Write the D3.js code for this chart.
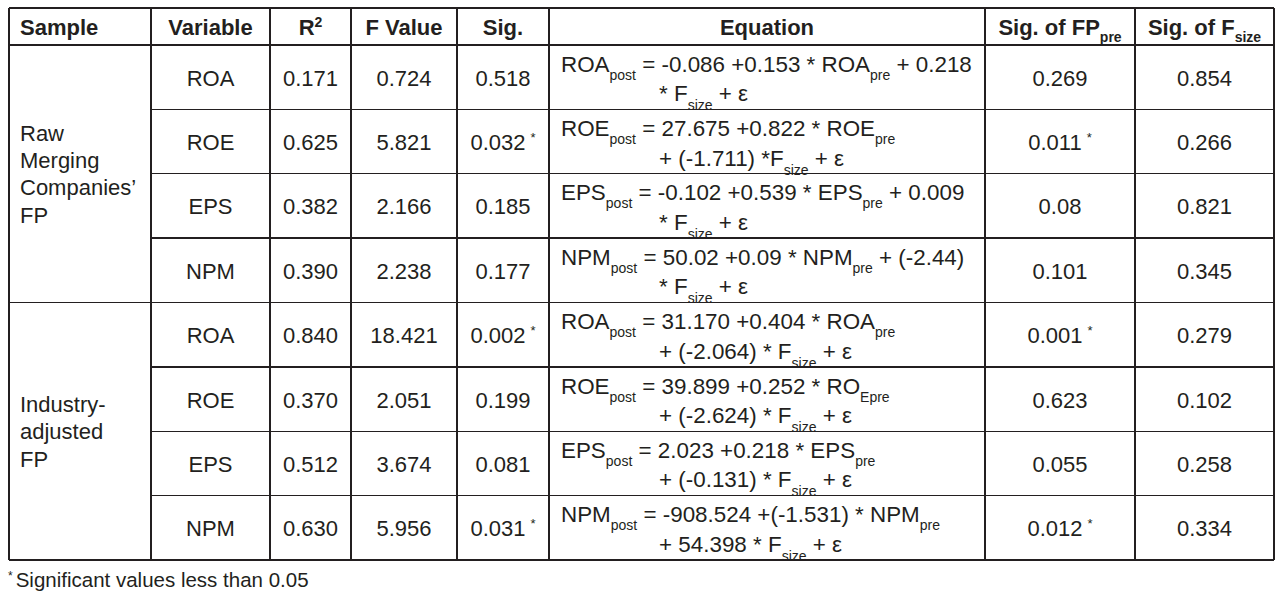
<!DOCTYPE html>
<html>
<head>
<meta charset="utf-8">
<script src="https://cdn.jsdelivr.net/npm/d3@7"></script>
<style>
  html, body { margin: 0; padding: 0; background: #fff; }
  svg { display: block; }
  text { font-family: "Liberation Sans", Arial, sans-serif; fill: #231f20; }
</style>
</head>
<body>
<svg id="chart" width="1286" height="603"></svg>
<script>
// ---------- data ----------
const headers = ["Sample", "Variable", "R_^{2}", "F Value", "Sig.", "Equation", "Sig. of FP_{pre}", "Sig. of F_{size}"];
const sampleGroups = [
  ["Raw", "Merging", "Companies\u2019", "FP"],
  ["Industry-", "adjusted", "FP"]
];
const groupSizes = [4, 4];
const variables = ["ROA", "ROE", "EPS", "NPM", "ROA", "ROE", "EPS", "NPM"];
const r2Values = ["0.171", "0.625", "0.382", "0.390", "0.840", "0.370", "0.512", "0.630"];
const fValues = ["0.724", "5.821", "2.166", "2.238", "18.421", "2.051", "3.674", "5.956"];
const sigValues = ["0.518", "0.032", "0.185", "0.177", "0.002", "0.199", "0.081", "0.031"];
const eqLine1 = [
  "ROA_{post} = -0.086 +0.153 * ROA_{pre} + 0.218",
  "ROE_{post} = 27.675 +0.822 * ROE_{pre}",
  "EPS_{post} = -0.102 +0.539 * EPS_{pre} + 0.009",
  "NPM_{post} = 50.02 +0.09 * NPM_{pre} + (-2.44)",
  "ROA_{post} = 31.170 +0.404 * ROA_{pre}",
  "ROE_{post} = 39.899 +0.252 * RO_{Epre}",
  "EPS_{post} = 2.023 +0.218 * EPS_{pre}",
  "NPM_{post} = -908.524 +(-1.531) * NPM_{pre}"
];
const eqLine2 = [
  "* F_{size} + \u03b5",
  "+ (-1.711) *F_{size} + \u03b5",
  "* F_{size} + \u03b5",
  "* F_{size} + \u03b5",
  "+ (-2.064) * F_{size} + \u03b5",
  "+ (-2.624) * F_{size} + \u03b5",
  "+ (-0.131) * F_{size} + \u03b5",
  "+ 54.398 * F_{size} + \u03b5"
];
const sigFPValues = ["0.269", "0.011", "0.08", "0.101", "0.001", "0.623", "0.055", "0.012"];
const sigFsizeValues = ["0.854", "0.266", "0.821", "0.345", "0.279", "0.102", "0.258", "0.334"];
const footnote = "Significant values less than 0.05";
const sigThreshold = 0.05;

// ---------- layout ----------
const colEdges = [9, 151, 270, 351, 457, 549, 985, 1135, 1274];
const tableTop = 8, headerBottom = 45, tableBottom = 560;
const FS = 22, EQFS = 22.4, SUB = 14;
const nRows = variables.length;

const svg = d3.select("#chart");
svg.append("rect").attr("width", 1286).attr("height", 603).attr("fill", "#fff");

const y = d3.scaleBand().domain(d3.range(nRows)).range([headerBottom, tableBottom]);
const colCenter = i => (colEdges[i] + colEdges[i + 1]) / 2;

// rich text: _{sub} and _^{sup}
function rich(textSel, str, opts) {
  const o = Object.assign({ sub: SUB, subDy: 8, supDy: -8 }, opts || {});
  const parts = str.split(/(_\^?\{[^}]*\})/).filter(s => s.length);
  let pending = 0;
  parts.forEach(p => {
    const m = p.match(/^_(\^?)\{([^}]*)\}$/);
    if (m) {
      const dy = m[1] ? o.supDy : o.subDy;
      textSel.append("tspan").attr("font-size", o.sub).attr("dy", dy + pending).text(m[2]);
      pending = -dy;
    } else {
      const ts = textSel.append("tspan").text(p);
      if (pending) ts.attr("dy", pending);
      pending = 0;
    }
  });
}

// ---------- grid lines ----------
const lines = svg.append("g").attr("stroke", "#231f20").attr("stroke-width", 1.3).attr("shape-rendering", "crispEdges");
const hl = (yy, x1, x2) => lines.append("line").attr("x1", x1).attr("x2", x2).attr("y1", yy).attr("y2", yy);
hl(tableTop, colEdges[0], colEdges[8]);
hl(headerBottom, colEdges[0], colEdges[8]);
const groupStarts = [0];
groupSizes.forEach((g, i) => groupStarts.push(groupStarts[i] + g));
d3.range(1, nRows + 1).forEach(r => {
  const yy = r === nRows ? tableBottom : y(r);
  const full = groupStarts.includes(r);
  hl(yy, full ? colEdges[0] : colEdges[1], colEdges[8]);
});
colEdges.forEach(x => lines.append("line").attr("x1", x).attr("x2", x).attr("y1", tableTop).attr("y2", tableBottom));

// ---------- header ----------
const hdr = svg.append("g").attr("font-weight", "bold").attr("font-size", FS);
headers.forEach((h, i) => {
  const t = hdr.append("text")
    .attr("x", i === 0 ? 20 : colCenter(i))
    .attr("y", (tableTop + headerBottom) / 2 + 8.5)
    .attr("text-anchor", i === 0 ? "start" : "middle");
  rich(t, h, { sub: 14, subDy: 7, supDy: -8 });
});

// ---------- sample column ----------
sampleGroups.forEach((lns, g) => {
  const r0 = groupStarts[g], r1 = groupStarts[g + 1];
  const top = y(r0), bot = r1 === nRows ? tableBottom : y(r1);
  const c = (top + bot) / 2;
  const lh = 27.3;
  lns.forEach((l, i) => {
    svg.append("text").attr("font-size", FS).attr("x", 20)
      .attr("y", c + 8 + (i - (lns.length - 1) / 2) * lh).text(l);
  });
});

// ---------- body cells ----------
const body = svg.append("g").attr("font-size", FS);
function valueCell(col, vals, star) {
  vals.forEach((v, r) => {
    const t = body.append("text").attr("x", colCenter(col)).attr("y", y(r) + y.bandwidth() / 2 + 8.5)
      .attr("text-anchor", "middle");
    t.append("tspan").text(v);
    if (star && +v < sigThreshold) {
      t.append("tspan").attr("font-size", 13).attr("dx", 5).attr("dy", -8).text("*");
    }
  });
}
valueCell(1, variables, false);
valueCell(2, r2Values, false);
valueCell(3, fValues, false);
valueCell(4, sigValues, true);
valueCell(6, sigFPValues, true);
valueCell(7, sigFsizeValues, false);

// equations
d3.range(nRows).forEach(r => {
  const c = y(r) + y.bandwidth() / 2;
  const t1 = body.append("text").attr("font-size", EQFS).attr("x", 561).attr("y", c - 5.5);
  rich(t1, eqLine1[r]);
  const t2 = body.append("text").attr("font-size", EQFS).attr("x", 659).attr("y", c + 24);
  rich(t2, eqLine2[r], { subDy: 9 });
});

// ---------- footnote ----------
const fn = svg.append("text").attr("x", 8).attr("y", 587).attr("font-size", 20.5);
fn.append("tspan").attr("font-size", 12).attr("dy", -7).text("*");
fn.append("tspan").attr("dy", 7).attr("dx", 3).text(footnote);
</script>
</body>
</html>
